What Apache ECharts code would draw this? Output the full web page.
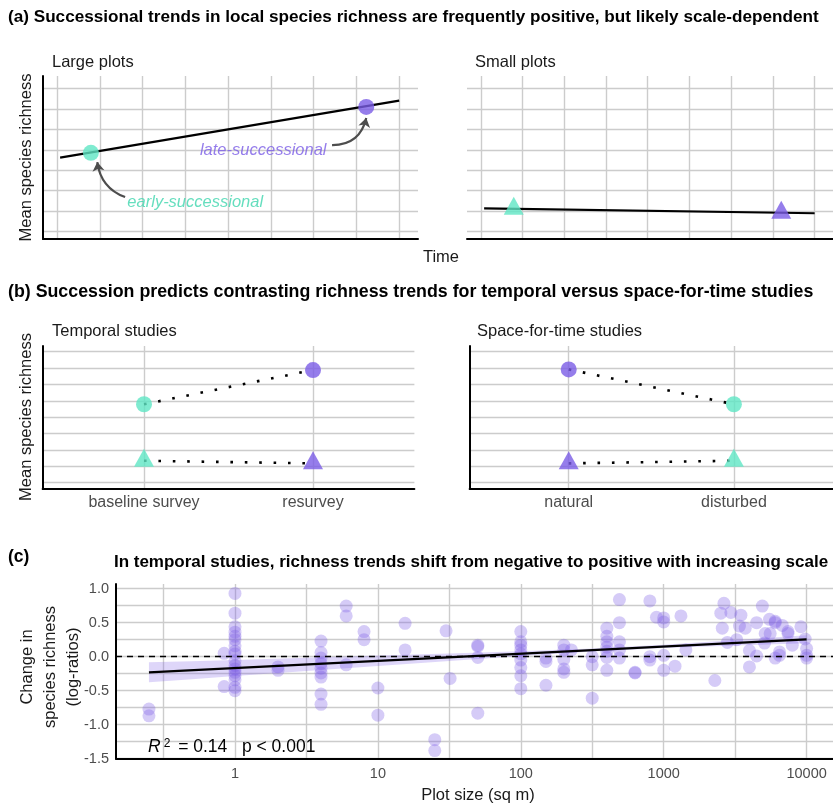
<!DOCTYPE html>
<html>
<head>
<meta charset="utf-8">
<script src="https://cdn.jsdelivr.net/npm/echarts@6/dist/echarts.min.js"></script>
<style>
  html, body { margin: 0; padding: 0; background: #fff; }
  #chart { width: 833px; height: 807px; }
</style>
</head>
<body>
<div id="chart"></div>
<script>
// ---- panel (a): conceptual trends over time (arbitrary grid units)
var timeTicks = [0, 1, 2, 3, 4, 5, 6, 7, 8];
var richTicksA = [0, 1, 2, 3, 4, 5, 6, 7];
var largeLine = [[0.07, 3.62], [8, 6.40]];
var smallLine = [[0.08, 1.14], [8, 0.90]];
var largePoints = [[0.79, 3.85], [7.23, 6.09]]; // early, late
var smallPoints = [[0.79, 1.12], [7.2, 0.92]];   // early, late
var annoText = ["late-successional", "early-successional"];
var annoAt = [[4.82, 3.98], [3.23, 1.45]];
var arrowFrom = [[6.43, 4.23], [1.59, 1.69]];
var arrowTo = [[7.23, 5.55], [0.94, 3.40]];

// ---- panel (b): temporal vs space-for-time
var surveyCats = ["baseline survey", "resurvey"];
var sftCats = ["natural", "disturbed"];
var richTicksB = [0, 1, 2, 3, 4, 5, 6, 7, 8];
var temporalLarge = [4.79, 6.88];
var temporalSmall = [1.34, 1.18];
var sftLarge = [6.92, 4.79];
var sftSmall = [1.18, 1.34];

// ---- panel (c): log-ratio change vs plot size
var plotSize = [
  0.25, 0.25, 0.84, 0.84,
  1, 1, 1, 1, 1, 1, 1, 1, 1, 1, 1, 1, 1, 1, 1, 1, 1,
  2, 2,
  4, 4, 4, 4, 4, 4, 4, 4, 4,
  6, 6, 6, 8, 8, 10, 10, 15.5, 15.5, 25, 25, 30, 32,
  50, 50, 50, 50,
  100, 100, 100, 100, 100, 100, 100, 100, 100,
  150, 150, 150,
  200, 200, 200, 200, 200, 226,
  316, 316, 316,
  400, 400, 400, 400, 400, 400, 400,
  490, 490, 490, 490, 490,
  630, 630, 800, 800, 800, 890,
  1000, 1000, 1000, 1000,
  1200, 1320, 1430, 2280, 2510, 2570, 2640, 2790, 2950, 3240, 3390, 3470, 3720,
  3980, 3980, 4470, 4470, 4900, 5080, 5130, 5500, 5560,
  6030, 6030, 6030, 6460, 6460, 6760, 7410, 7410, 7940, 9120, 9770,
  10000, 10000, 10000
];
var logRatio = [
  -0.77, -0.87, 0.05, -0.44,
  0.93, 0.64, 0.44, 0.36, 0.3, 0.25, 0.16, 0.08, 0.04, -0.06, -0.13, -0.18, -0.23, -0.28, -0.34, -0.45, -0.5,
  -0.15, -0.2,
  0.23, 0.06, -0.02, -0.1, -0.17, -0.24, -0.3, -0.55, -0.7,
  0.745, 0.6, -0.12, 0.37, 0.25, -0.46, -0.86, 0.49, 0.1, -1.22, -1.38, 0.38, -0.32,
  0.17, 0.15, -0.01, -0.83,
  0.37, 0.22, 0.17, 0.1, 0.04, -0.05, -0.16, -0.28, -0.47,
  -0.02, -0.07, -0.42,
  0.17, 0.1, -0.04, -0.18, -0.23, 0.1,
  0.0, -0.12, -0.61,
  0.42, 0.3, 0.22, 0.14, 0.08, -0.01, -0.2,
  0.84, 0.5, 0.22, 0.1, -0.02,
  -0.23, -0.24, 0.82, 0.0, -0.05, 0.58,
  0.57, 0.51, 0.02, -0.2,
  -0.14, 0.6, 0.1, -0.35, 0.64, 0.42, 0.785, 0.21, 0.65, 0.25, 0.45, 0.61, 0.42,
  0.09, -0.15, 0.01, 0.5, 0.745, 0.2, 0.34, 0.55, 0.34,
  0.52, 0.5, -0.02, 0.07, 0.02, 0.46, 0.37, 0.34, 0.17, 0.44, 0.26,
  0.12, 0.02, -0.02
];
var fitSize = [0.25, 10000];
var fitValue = [-0.23, 0.256];
var bandSize = [0.25, 0.5, 1, 3.16, 10, 31.6, 100, 316, 1000, 3162, 10000];
var bandLow = [-0.376, -0.330, -0.285, -0.210, -0.136, -0.062, 0.009, 0.076, 0.127, 0.164, 0.197];
var bandHigh = [-0.083, -0.066, -0.047, -0.016, 0.016, 0.048, 0.081, 0.120, 0.175, 0.244, 0.317];
var sizeGridTicks = [0.3162, 1, 3.162, 10, 31.62, 100, 316.2, 1000, 3162, 10000];
var sizeLabelTicks = [1, 10, 100, 1000, 10000];
var changeGridTicks = [-1.5, -1.25, -1, -0.75, -0.5, -0.25, 0, 0.25, 0.5, 0.75, 1];
var changeLabelTicks = [-1.5, -1, -0.5, 0, 0.5, 1];

var GREEN = "#5fe6c4";
var GREEN_TEXT = "#3fd6ae";
var PURPLE = "#7b5de6";
var GRID_COLOR = "#cccccc";
var FONT = "Liberation Sans, Arial, sans-serif";

var chart = echarts.init(document.getElementById("chart"), null, { renderer: "canvas" });

function axis(gridIndex, min, max, gridVals, opts) {
  opts = opts || {};
  return {
    type: opts.type || "value",
    gridIndex: gridIndex,
    min: min,
    max: max,
    logBase: 10,
    axisLine: { show: opts.line !== false, onZero: false, lineStyle: { color: "#000", width: 2 } },
    axisTick: { show: false, customValues: gridVals },
    splitLine: { show: true, lineStyle: { color: GRID_COLOR, width: 1.4 } },
    axisLabel: opts.label || { show: false }
  };
}

function pointsOf(xs, ys, colors) {
  return xs.map(function (x, i) {
    return { value: [x, ys[i]], itemStyle: { color: colors[i] } };
  });
}

function catLabel(cats) {
  return {
    show: true,
    customValues: [1, 2],
    color: "#4d4d4d",
    fontSize: 16,
    fontFamily: FONT,
    margin: 6,
    formatter: function (v) { return cats[Math.round(v) - 1]; }
  };
}

function txt(x, y, s, o) {
  o = o || {};
  return {
    type: "text",
    x: x,
    y: y,
    rotation: o.rot || 0,
    z: 100,
    style: {
      text: s,
      fontSize: o.size || 16.5,
      fontFamily: FONT,
      fontWeight: o.weight || "normal",
      fill: o.color || "#1a1a1a",
      align: o.align || "left",
      verticalAlign: "middle",
      lineHeight: o.lh,
      rich: o.rich
    }
  };
}

function title(x, y, s, size, align) {
  return txt(x, y, s, { weight: "bold", size: size, color: "#000", align: align });
}

var pA = [GREEN, PURPLE];
var pTemporal = [GREEN, PURPLE];
var pSft = [PURPLE, GREEN];
var DOTTED = { color: "#000", width: 2.6, type: [2.6, 11.8] };

var option = {
  animation: false,
  backgroundColor: "#fff",
  grid: [
    { left: 43, top: 76, width: 375, height: 163 },
    { left: 467, top: 76, width: 375, height: 163 },
    { left: 42.6, top: 346, width: 371.8, height: 143 },
    { left: 469.6, top: 346, width: 371.8, height: 143 },
    { left: 116, top: 584, width: 717, height: 174.7 }
  ],
  xAxis: [
    axis(0, -0.33, 8.44, timeTicks),
    axis(1, -0.33, 8.44, timeTicks),
    axis(2, 0.4, 2.6, [1, 2], { label: catLabel(surveyCats) }),
    axis(3, 0.4, 2.6, [1, 2], { label: catLabel(sftCats) }),
    axis(4, 0.147, 15300, sizeGridTicks, {
      type: "log",
      label: {
        show: true, customValues: sizeLabelTicks, color: "#4d4d4d", fontSize: 14.5,
        fontFamily: FONT, margin: 8,
        formatter: function (v) { return String(Math.round(v)); }
      }
    })
  ],
  yAxis: [
    axis(0, -0.356, 7.6, richTicksA),
    axis(1, -0.356, 7.6, richTicksA, { line: false }),
    axis(2, -0.385, 8.348, richTicksB),
    axis(3, -0.385, 8.348, richTicksB),
    axis(4, -1.5, 1.069, changeGridTicks, {
      label: {
        show: true, customValues: changeLabelTicks, color: "#4d4d4d", fontSize: 14.5,
        fontFamily: FONT, margin: 7,
        formatter: function (v) { return v.toFixed(1); }
      }
    })
  ],
  series: [
    // (a) large plots
    { type: "line", xAxisIndex: 0, yAxisIndex: 0, data: largeLine, symbol: "none",
      lineStyle: { color: "#000", width: 2.2 }, z: 2 },
    { type: "scatter", xAxisIndex: 0, yAxisIndex: 0, symbolSize: 16, z: 3,
      data: pointsOf(largePoints.map(function (p) { return p[0]; }), largePoints.map(function (p) { return p[1]; }), pA) },
    { type: "lines", coordinateSystem: "cartesian2d", xAxisIndex: 0, yAxisIndex: 0, z: 4,
      symbol: ["none", "arrow"], symbolSize: 9,
      lineStyle: { color: "#4d4d4d", width: 2.2, opacity: 1 },
      data: [
        { coords: [arrowFrom[0], arrowTo[0]], lineStyle: { curveness: -0.4 } },
        { coords: [arrowFrom[1], arrowTo[1]], lineStyle: { curveness: 0.3 } }
      ] },
    { type: "scatter", xAxisIndex: 0, yAxisIndex: 0, symbolSize: 1, z: 5,
      itemStyle: { color: "rgba(0,0,0,0)" },
      label: { show: true, position: "inside", fontSize: 16.5, fontStyle: "italic", fontFamily: FONT,
        formatter: function (p) { return annoText[p.dataIndex]; } },
      data: [
        { value: annoAt[0], label: { color: PURPLE } },
        { value: annoAt[1], label: { color: GREEN_TEXT } }
      ] },
    // (a) small plots
    { type: "line", xAxisIndex: 1, yAxisIndex: 1, data: smallLine, symbol: "none",
      lineStyle: { color: "#000", width: 2.2 }, z: 2 },
    { type: "scatter", xAxisIndex: 1, yAxisIndex: 1, symbol: "triangle", symbolSize: [20, 18],
      symbolOffset: [0, -3], z: 3,
      data: pointsOf(smallPoints.map(function (p) { return p[0]; }), smallPoints.map(function (p) { return p[1]; }), pA) },
    // (b) temporal
    { type: "line", xAxisIndex: 2, yAxisIndex: 2, data: [[1, temporalLarge[0]], [2, temporalLarge[1]]],
      symbol: "none", lineStyle: DOTTED, z: 2 },
    { type: "line", xAxisIndex: 2, yAxisIndex: 2, data: [[1, temporalSmall[0]], [2, temporalSmall[1]]],
      symbol: "none", lineStyle: DOTTED, z: 2 },
    { type: "scatter", xAxisIndex: 2, yAxisIndex: 2, symbolSize: 16, z: 3,
      data: pointsOf([1, 2], temporalLarge, pTemporal) },
    { type: "scatter", xAxisIndex: 2, yAxisIndex: 2, symbol: "triangle", symbolSize: [20, 18],
      symbolOffset: [0, -3], z: 3, data: pointsOf([1, 2], temporalSmall, pTemporal) },
    // (b) space-for-time
    { type: "line", xAxisIndex: 3, yAxisIndex: 3, data: [[1, sftLarge[0]], [2, sftLarge[1]]],
      symbol: "none", lineStyle: DOTTED, z: 2 },
    { type: "line", xAxisIndex: 3, yAxisIndex: 3, data: [[1, sftSmall[0]], [2, sftSmall[1]]],
      symbol: "none", lineStyle: DOTTED, z: 2 },
    { type: "scatter", xAxisIndex: 3, yAxisIndex: 3, symbolSize: 16, z: 3,
      data: pointsOf([1, 2], sftLarge, pSft) },
    { type: "scatter", xAxisIndex: 3, yAxisIndex: 3, symbol: "triangle", symbolSize: [20, 18],
      symbolOffset: [0, -3], z: 3, data: pointsOf([1, 2], sftSmall, pSft) },
    // (c) scatter + fit
    { type: "scatter", xAxisIndex: 4, yAxisIndex: 4, symbolSize: 13, z: 2,
      itemStyle: { color: "rgba(123, 93, 230, 0.4)" },
      data: plotSize.map(function (s, i) { return [s, logRatio[i]]; }),
      markLine: { silent: true, symbol: "none", label: { show: false },
        lineStyle: { color: "#000", width: 1.3, type: [6, 5] },
        data: [{ yAxis: 0 }] } },
    { type: "custom", xAxisIndex: 4, yAxisIndex: 4, coordinateSystem: "cartesian2d", z: 3,
      silent: true, data: [0],
      renderItem: function (params, api) {
        var upper = bandSize.map(function (s, i) { return api.coord([s, bandHigh[i]]); });
        var lower = bandSize.map(function (s, i) { return api.coord([s, bandLow[i]]); }).reverse();
        return {
          type: "polygon",
          shape: { points: upper.concat(lower) },
          style: { fill: "rgba(123, 93, 230, 0.25)" }
        };
      } },
    { type: "line", xAxisIndex: 4, yAxisIndex: 4, symbol: "none", z: 4,
      lineStyle: { color: "#000", width: 2.2 },
      data: fitSize.map(function (s, i) { return [s, fitValue[i]]; }) }
  ],
  graphic: [
    title(8, 17, "(a) Successional trends in local species richness are frequently positive, but likely scale-dependent", 17.15),
    txt(52, 62.5, "Large plots"),
    txt(475, 62.5, "Small plots"),
    txt(26, 157.5, "Mean species richness", { rot: Math.PI / 2, align: "center" }),
    txt(441, 257, "Time", { align: "center" }),
    title(8, 292, "(b) Succession predicts contrasting richness trends for temporal versus space-for-time studies", 17.8),
    txt(52, 331.5, "Temporal studies"),
    txt(477, 331.5, "Space-for-time studies"),
    txt(26, 417, "Mean species richness", { rot: Math.PI / 2, align: "center" }),
    title(8, 557, "(c)", 17.5),
    title(471, 562, "In temporal studies, richness trends shift from negative to positive with increasing scale", 17, "center"),
    txt(50, 667, "Change in\nspecies richness\n(log-ratios)", { rot: Math.PI / 2, align: "center", lh: 23 }),
    txt(478, 795, "Plot size (sq m)", { align: "center" }),
    txt(148, 747, "{i|R}{s|2} = 0.14   p < 0.001", {
      color: "#000",
      size: 17.5,
      rich: {
        i: { fontStyle: "italic", fontSize: 17.5, fontFamily: FONT, fill: "#000" },
        s: { fontSize: 12, fontFamily: FONT, verticalAlign: "top", padding: [0, 3, 0, 3], fill: "#000" }
      }
    })
  ]
};

chart.setOption(option);
window.addEventListener("resize", chart.resize);
</script>
</body>
</html>
